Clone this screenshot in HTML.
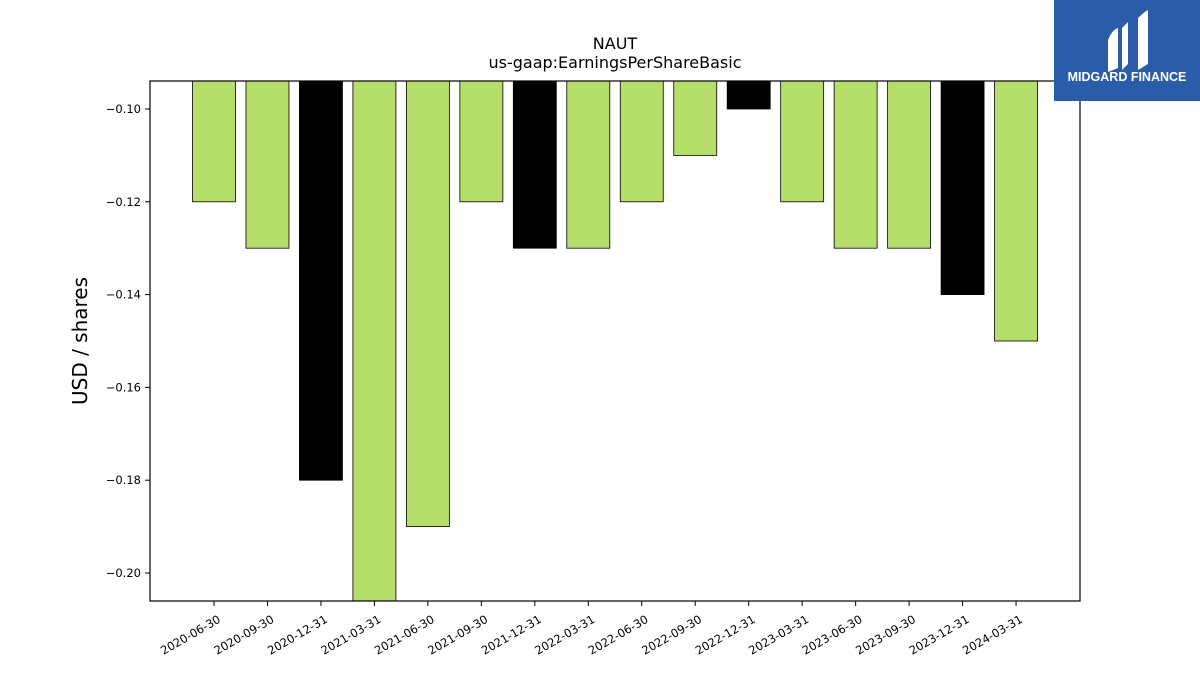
<!DOCTYPE html>
<html><head><meta charset="utf-8"><style>
body{margin:0;background:#fff;width:1200px;height:675px;overflow:hidden;font-family:"Liberation Sans","DejaVu Sans",sans-serif}
</style></head><body>
<svg id="chart" width="1200" height="675" xmlns="http://www.w3.org/2000/svg" font-family="DejaVu Sans, Liberation Sans, sans-serif">
<text x="615" y="49" text-anchor="middle" font-size="16">NAUT</text>
<text x="615" y="68" text-anchor="middle" font-size="16">us-gaap:EarningsPerShareBasic</text>
<text transform="translate(87,341) rotate(-90)" text-anchor="middle" font-size="20">USD / shares</text>
<g id="bars"></g>
<g id="yticks"></g>
<g id="xticks"></g>
<rect x="150" y="81" width="930" height="520" fill="none" stroke="#000" stroke-width="1.2"/>
<g>
<rect x="1054" y="0" width="146" height="101" fill="#2a5caa"/>
<path d="M1108 40 Q1112 30 1118 28 L1118 68 L1108 72 Z" fill="#fff"/>
<path d="M1122 28 L1128 22 L1128 64 L1122 70 Z" fill="#fff"/>
<path d="M1138 18 Q1144 12 1148 10 L1148 64 L1138 70 Z" fill="#fff"/>
<text x="1127" y="81" text-anchor="middle" fill="#fff" font-size="12.5" font-weight="bold" font-family="Liberation Sans, sans-serif">MIDGARD FINANCE</text>
</g>
</svg>
<script>
const categories=["2020-06-30","2020-09-30","2020-12-31","2021-03-31","2021-06-30","2021-09-30","2021-12-31","2022-03-31","2022-06-30","2022-09-30","2022-12-31","2023-03-31","2023-06-30","2023-09-30","2023-12-31","2024-03-31"];
const values=[-0.12,-0.13,-0.18,-0.21,-0.19,-0.12,-0.13,-0.13,-0.12,-0.11,-0.10,-0.12,-0.13,-0.13,-0.14,-0.15];
const yTicks=[-0.10,-0.12,-0.14,-0.16,-0.18,-0.20];
const yTickLabels=["\u22120.10","\u22120.12","\u22120.14","\u22120.16","\u22120.18","\u22120.20"];
const NS="http://www.w3.org/2000/svg";
const plotTop=81,plotBot=601,yMax=-0.09397,yMin=-0.20603;
function yPos(v){return plotTop+(yMax-v)/(yMax-yMin)*(plotBot-plotTop);}
function xPos(i){return 214+i*53.47;}
const bw=43;
const bars=document.getElementById('bars');
values.forEach((v,i)=>{
 const r=document.createElementNS(NS,'rect');
 
 
 const yb=Math.min(yPos(v),plotBot);
 r.setAttribute('x',xPos(i)-bw/2);r.setAttribute('y',plotTop);
 r.setAttribute('width',bw);r.setAttribute('height',Math.max(0,yb-plotTop));
 r.setAttribute('fill',categories[i].endsWith('12-31')?'#000':'#b5df6a');
 r.setAttribute('stroke','#000');r.setAttribute('stroke-width','0.8');
 bars.appendChild(r);
});
const yt=document.getElementById('yticks');
yTicks.forEach((t,i)=>{
 const l=document.createElementNS(NS,'line');
 
 
 l.setAttribute('x1',145);l.setAttribute('x2',150);l.setAttribute('y1',yPos(t));l.setAttribute('y2',yPos(t));l.setAttribute('stroke','#000');
 yt.appendChild(l);
 const tx=document.createElementNS(NS,'text');
 
 
 tx.setAttribute('x',141);tx.setAttribute('y',yPos(t)+4);tx.setAttribute('text-anchor','end');tx.setAttribute('font-size','11.5');
 tx.textContent=yTickLabels[i];yt.appendChild(tx);
});
const xt=document.getElementById('xticks');
categories.forEach((c,i)=>{
 const l=document.createElementNS(NS,'line');
 
 
 l.setAttribute('x1',xPos(i));l.setAttribute('x2',xPos(i));l.setAttribute('y1',601);l.setAttribute('y2',606);l.setAttribute('stroke','#000');
 xt.appendChild(l);
 const tx=document.createElementNS(NS,'text');
 
 
 tx.setAttribute('transform','translate('+(xPos(i)+3)+',614) rotate(-30)');
 tx.setAttribute('text-anchor','end');tx.setAttribute('font-size','11.5');tx.setAttribute('dominant-baseline','hanging');
 tx.textContent=c;xt.appendChild(tx);
});
</script>
</body></html>
